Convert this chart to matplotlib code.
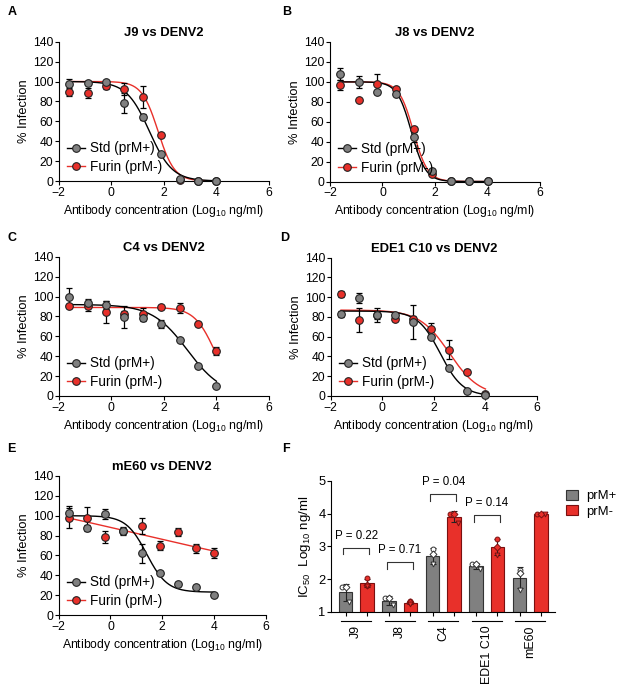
import numpy as np
import matplotlib
matplotlib.use("Agg")
import matplotlib.pyplot as plt
from matplotlib.lines import Line2D
from matplotlib.patches import Patch
import matplotlib.transforms as mtransforms

plt.rcParams['font.family'] = ['Liberation Sans', 'DejaVu Sans']
plt.rcParams['font.size'] = 8
plt.rcParams['mathtext.default'] = 'regular'

GREY = '#808080'
RED = '#e8302a'

# antibody dilutions (log10 ng/ml), same for every neutralisation panel
log_conc = [-1.6, -0.9, -0.2, 0.5, 1.2, 1.9, 2.6, 3.3, 4.0]

# % infection: Std (prM+) and Furin (prM-) virus
j9_std = [97, 98, 100, 78, 64, 27, 2, 0.5, 0.5]
j9_std_err = [6, 2, 1, 10, 3, 1, 0, 0, 0]
j9_fur = [89, 88, 95, 92, 84, 46, 1, 0.5, 0.5]
j9_fur_err = [4, 5, 3, 6, 11, 2, 0, 0, 0]

j8_std = [108, 100, 90, 88, 45, 11, 0.5, 0.5, 0.5]
j8_std_err = [6, 6, 1, 1, 5, 2, 0, 0, 0]
j8_fur = [97, 82, 98, 93, 53, 8, 0.5, 0.5, 0.5]
j8_fur_err = [5, 1, 10, 2, 2, 2, 0, 0, 0]

c4_std = [100, 93, 91, 79, 78, 72, 56, 30, 10]
c4_std_err = [9, 4, 4, 11, 3, 4, 1, 1, 1]
c4_fur = [90, 90, 84, 82, 82, 89, 88, 72, 45]
c4_fur_err = [2, 5, 11, 3, 6, 2, 5, 2, 4]

ede_std = [83, 99, 82, 82, 75, 60, 28, 5, 1]
ede_std_err = [3, 5, 7, 2, 17, 2, 1, 1, 1]
ede_fur = [103, 77, 82, 78, 78, 68, 47, 24, 2.5]
ede_fur_err = [3, 12, 4, 2, 3, 6, 10, 2, 1]

me60_std = [103, 88, 102, 85, 62, 42, 31, 28, 20]
me60_std_err = [7, 3, 5, 4, 10, 2, 2, 2, 2]
me60_fur = [98, 98, 79, 85, 90, 70, 84, 67, 62]
me60_fur_err = [10, 11, 6, 3, 8, 5, 4, 5, 5]

# fitted 4PL curves (bottom, top, logIC50, hill) as drawn in the figure
j9_std_fit = (0, 100, 1.45, 1.0)
j9_fur_fit = (0, 100, 1.78, 1.4)
j8_std_fit = (0, 100, 1.10, 1.6)
j8_fur_fit = (0, 100, 1.18, 1.6)
c4_std_fit = (0, 92, 2.90, 0.65)
c4_fur_fit = (0, 89, 3.95, 1.1)
ede_std_fit = (0, 86, 2.25, 1.0)
ede_fur_fit = (0, 87, 2.60, 0.75)
me60_std_fit = (23, 100, 1.40, 1.1)
me60_fur_fit = (21, 141, 1.20, 0.088)

# panel F: IC50 replicates (log10 ng/ml)
groups = ['J9', 'J8', 'C4', 'EDE1 C10', 'mE60']
prm_plus = [[1.75, 1.75, 1.30], [1.42, 1.42, 1.20], [2.92, 2.78, 2.45],
            [2.45, 2.45, 2.30], [2.27, 2.20, 1.67]]
prm_minus = [[2.03, 1.82, 1.80], [1.32, 1.30, 1.24], [4.0, 4.0, 3.70],
             [3.22, 2.98, 2.75], [4.0, 4.0, 4.0]]
p_labels = ['P = 0.22', 'P = 0.71', 'P = 0.04', 'P = 0.14']
bracket_y = [2.96, 2.51, 4.59, 3.95]

W, H = 617, 688
fig = plt.figure(figsize=(W / 100, H / 100), dpi=100)


def px_axes(left, top, right, bottom):
    return fig.add_axes([left / W, 1 - bottom / H, (right - left) / W, (bottom - top) / H])


def four_pl(x, bottom, top, logic50, hill):
    return bottom + (top - bottom) / (1 + 10 ** ((x - logic50) * hill))


def style_axes(ax):
    for s in ['top', 'right']:
        ax.spines[s].set_visible(False)
    for s in ['left', 'bottom']:
        ax.spines[s].set_linewidth(0.8)
    ax.tick_params(direction='out', length=3, width=0.8, labelsize=8.7, pad=1)


def curve_panel(ax, title, std, std_err, fur, fur_err, std_fit, fur_fit):
    style_axes(ax)
    xx = np.linspace(log_conc[0], log_conc[-1], 200)
    ax.plot(xx, four_pl(xx, *fur_fit), color=RED, lw=1, zorder=2)
    ax.plot(xx, four_pl(xx, *std_fit), color='black', lw=1, zorder=2)
    ax.errorbar(log_conc, fur, yerr=fur_err, fmt='none', ecolor='black',
                elinewidth=0.9, capsize=2.5, capthick=0.9, zorder=3, clip_on=False)
    ax.errorbar(log_conc, std, yerr=std_err, fmt='none', ecolor='black',
                elinewidth=0.9, capsize=2.5, capthick=0.9, zorder=3, clip_on=False)
    ax.plot(log_conc, fur, 'o', ms=5.5, mfc=RED, mec='#222222', mew=0.8,
            zorder=4, clip_on=False)
    ax.plot(log_conc, std, 'o', ms=5.5, mfc=GREY, mec='#222222', mew=0.8,
            zorder=5, clip_on=False)
    ax.set_xlim(-2, 6)
    ax.set_ylim(0, 140)
    ax.set_xticks([-2, 0, 2, 4, 6])
    ax.set_yticks(range(0, 141, 20))
    ax.set_title(title, fontweight='bold', fontsize=9.4, pad=4)
    ax.set_xlabel('Antibody concentration (Log$_{10}$ ng/ml)', fontsize=8.8, labelpad=3)
    ax.set_ylabel('% Infection', fontsize=9.3, labelpad=2)
    handles = [Line2D([], [], color='black', lw=1, marker='o', ms=5.5, mfc=GREY,
                      mec='#222222', mew=0.8),
               Line2D([], [], color=RED, lw=1, marker='o', ms=5.5, mfc=RED,
                      mec='#222222', mew=0.8)]
    ax.legend(handles, ['Std (prM+)', 'Furin (prM-)'], loc='lower left',
              bbox_to_anchor=(-0.005, -0.02), frameon=False, fontsize=9.8,
              handlelength=1.3, handletextpad=0.35, labelspacing=0.35, borderpad=0.2)


ax_a = px_axes(58.7, 41.7, 269, 181)
curve_panel(ax_a, 'J9 vs DENV2', j9_std, j9_std_err, j9_fur, j9_fur_err, j9_std_fit, j9_fur_fit)
ax_b = px_axes(330, 42, 540, 181.5)
curve_panel(ax_b, 'J8 vs DENV2', j8_std, j8_std_err, j8_fur, j8_fur_err, j8_std_fit, j8_fur_fit)
ax_c = px_axes(58.7, 256.7, 269, 396)
curve_panel(ax_c, 'C4 vs DENV2', c4_std, c4_std_err, c4_fur, c4_fur_err, c4_std_fit, c4_fur_fit)
ax_d = px_axes(330.7, 257.7, 537, 396)
curve_panel(ax_d, 'EDE1 C10 vs DENV2', ede_std, ede_std_err, ede_fur, ede_fur_err,
            ede_std_fit, ede_fur_fit)
ax_e = px_axes(58.7, 476, 265.7, 615)
curve_panel(ax_e, 'mE60 vs DENV2', me60_std, me60_std_err, me60_fur, me60_fur_err,
            me60_std_fit, me60_fur_fit)

# panel F: IC50 bars
ax_f = px_axes(331, 480.7, 555, 612)
style_axes(ax_f)
ax_f.tick_params(labelsize=9.3)
centers = np.arange(len(groups))
off, bw = 0.245, 0.31
rep_markers = ['o', 'D', 'v']
for i in range(len(groups)):
    for reps, xo, fc, ec, pfc in [(prm_plus[i], -off, GREY, '#333333', 'white'),
                                  (prm_minus[i], off, RED, '#7a1010', RED)]:
        m = np.mean(reps)
        sd = np.std(reps, ddof=1)
        x = centers[i] + xo
        ax_f.bar(x, m - 1, bottom=1, width=bw, color=fc, edgecolor=ec, lw=0.8, zorder=2)
        ax_f.errorbar(x, m, yerr=sd, fmt='none', ecolor='#222222', elinewidth=0.8,
                      capsize=2.5, capthick=0.8, zorder=3)
        for k, v in enumerate(reps):
            jitter = (k - 1) * 0.09 if len(set(reps)) < len(reps) else 0
            ax_f.plot(x + jitter, v, rep_markers[k], ms=3.5, mfc=pfc, mec=ec, mew=0.7, zorder=4,
                      clip_on=False)

for i, (lab, by) in enumerate(zip(p_labels, bracket_y)):
    x0, x1 = centers[i] - off - 0.05, centers[i] + off + 0.05
    ax_f.plot([x0, x0, x1, x1], [by - 0.2, by, by, by - 0.2], color='#333333', lw=0.8,
              clip_on=False)
    ax_f.text(centers[i], by + 0.37, lab, ha='center', va='center', fontsize=8.3)

ax_f.set_xlim(-0.58, 4.57)
ax_f.set_ylim(1, 5)
ax_f.set_yticks([1, 2, 3, 4, 5])
ax_f.set_xticks(np.concatenate([centers - off, centers + off]))
ax_f.set_xticklabels([])
ax_f.set_ylabel('IC$_{50}$  Log$_{10}$ ng/ml', fontsize=9.6, labelpad=4)
trans = mtransforms.blended_transform_factory(ax_f.transData, ax_f.transAxes)
for i, g in enumerate(groups):
    ax_f.plot([centers[i] - off - 0.1, centers[i] + off + 0.1], [-0.07, -0.07],
              color='black', lw=0.8, transform=trans, clip_on=False)
    ax_f.text(centers[i], -0.1, g, rotation=90, ha='center', va='top', fontsize=8.9,
              transform=trans)

ax_f.legend([Patch(facecolor=GREY, edgecolor='#333333', lw=0.8),
             Patch(facecolor=RED, edgecolor='#7a1010', lw=0.8)], ['prM+', 'prM-'],
            loc='upper left', bbox_to_anchor=(1.01, 1.0), frameon=False, fontsize=9.4,
            handlelength=0.9, handleheight=0.8, handletextpad=0.6, labelspacing=0.2,
            borderaxespad=0.3)

for letter, (x, y) in zip('ABCDEF', [(11.7, 11.7), (286.7, 11.7), (11.7, 238.3),
                                     (285, 238.3), (11.7, 449), (285.7, 449)]):
    fig.text(x / W, 1 - y / H, letter, fontweight='bold', fontsize=9, ha='center', va='center')

fig.savefig('out.png', dpi=100)
